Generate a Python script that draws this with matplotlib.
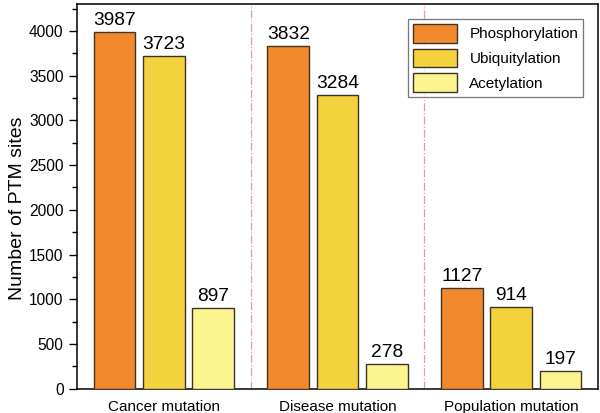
import matplotlib
matplotlib.use("Agg")
import matplotlib.pyplot as plt
import numpy as np
from matplotlib.ticker import MultipleLocator

plt.rcParams['font.family'] = ['Liberation Sans', 'DejaVu Sans']

categories = ['Cancer mutation', 'Disease mutation', 'Population mutation']
series_names = ['Phosphorylation', 'Ubiquitylation', 'Acetylation']
phospho = [3987, 3832, 1127]
ubiq = [3723, 3284, 914]
acetyl = [897, 278, 197]
colors = ['#F3892D', '#F4D23D', '#FCF48F']


def main():
    fig = plt.figure(figsize=(6, 4.13), dpi=100)
    ax = fig.add_axes([0.128, 0.059, 0.869, 0.931])

    x = np.arange(len(categories)) + 0.5
    width = 0.24
    offsets = [-0.283, 0, 0.283]
    for vals, off, col, name in zip([phospho, ubiq, acetyl], offsets, colors, series_names):
        bars = ax.bar(x + off, vals, width, color=col, edgecolor='#3b3526',
                      linewidth=1.0, label=name, zorder=3)
        for b, v in zip(bars, vals):
            ax.text(b.get_x() + b.get_width() / 2, v + 35, str(v),
                    ha='center', va='bottom', fontsize=13.8)

    for sep in [1, 2]:
        ax.axvline(sep, color='#dc98cc', linestyle='-.', linewidth=0.9, zorder=1)

    ax.set_xlim(0, 3)
    ax.set_ylim(0, 4300)
    ax.set_xticks(x)
    ax.set_xticklabels(categories, fontsize=11)
    ax.tick_params(axis='x', length=0, pad=8)
    ax.yaxis.set_major_locator(MultipleLocator(500))
    ax.yaxis.set_minor_locator(MultipleLocator(250))
    ax.tick_params(axis='y', which='major', length=6, width=1, labelsize=11.2)
    ax.tick_params(axis='y', which='minor', length=3.5, width=1)
    ax.set_ylabel('Number of PTM sites', fontsize=14)
    ax.yaxis.set_label_coords(-0.098, 0.47)
    for s in ax.spines.values():
        s.set_linewidth(1.1)

    leg = ax.legend(loc='upper right', fontsize=11, frameon=True, fancybox=False,
                    edgecolor='#555555', handlelength=2.9, handleheight=1.5,
                    borderaxespad=1.0, labelspacing=0.4, borderpad=0.3)
    leg.get_frame().set_linewidth(0.9)

    fig.savefig('out.png', dpi=100)


if __name__ == "__main__":
    main()
